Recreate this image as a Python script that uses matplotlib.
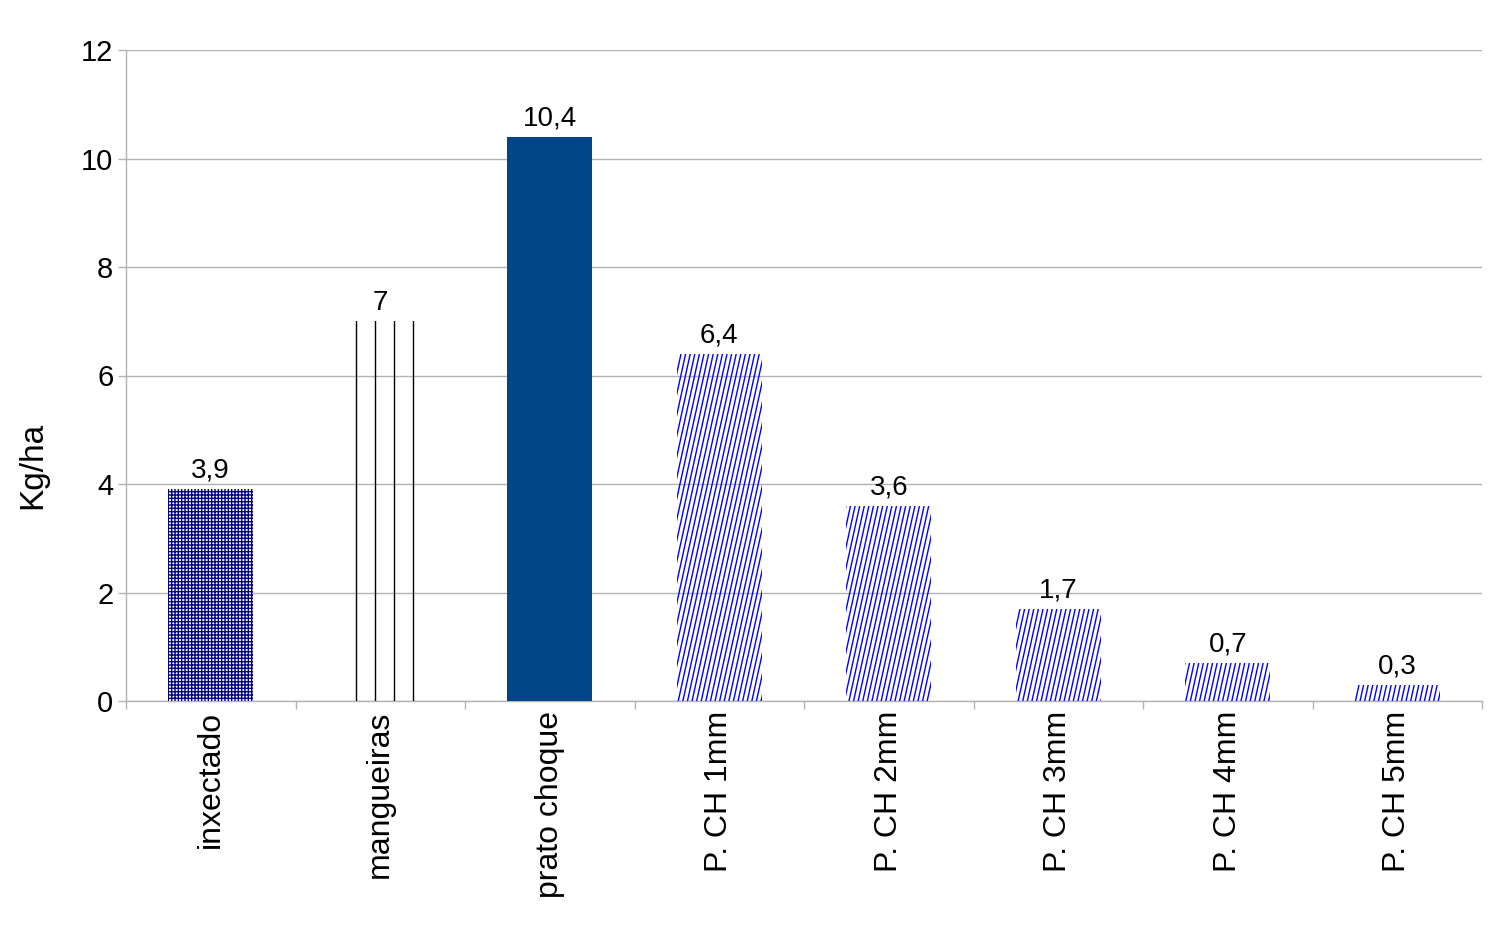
import matplotlib
matplotlib.use("Agg")
import matplotlib.pyplot as plt
import numpy as np
from matplotlib.lines import Line2D
from matplotlib.transforms import IdentityTransform

categories = ["inxectado", "mangueiras", "prato choque", "P. CH 1mm", "P. CH 2mm",
              "P. CH 3mm", "P. CH 4mm", "P. CH 5mm"]
values = [3.9, 7.0, 10.4, 6.4, 3.6, 1.7, 0.7, 0.3]
value_labels = ["3,9", "7", "10,4", "6,4", "3,6", "1,7", "0,7", "0,3"]
y_ticks = [0, 2, 4, 6, 8, 10, 12]

plt.rcParams['font.family'] = ['Liberation Sans', 'DejaVu Sans']
plt.rcParams['hatch.linewidth'] = 1.0

W, H = 1506, 944
fig = plt.figure(figsize=(W / 100, H / 100), dpi=100)
ax = fig.add_axes([126 / W, 1 - 701 / H, (1482 - 126) / W, (701 - 50) / H])

x = np.arange(len(categories))
bars = ax.bar(x, values, width=0.5, color="none", linewidth=0, zorder=3)

# bar 0: dense navy grid
bars[0].set_facecolor("white")
bars[0].set_hatch("+++++")
bars[0].set_edgecolor("#000080")
# bar 2: solid blue
bars[2].set_facecolor("#004586")
bars[2].set_edgecolor("#004586")

ax.set_xlim(-0.5, len(categories) - 0.5)
ax.set_ylim(0, 12)
fig.canvas.draw()


def add_clipped(bar, xs0, xs1, y0, y1, color, lw):
    ln = Line2D([xs0, xs1], [y0, y1], transform=IdentityTransform(),
                color=color, linewidth=lw, zorder=4)
    ax.add_artist(ln)
    ln.set_clip_path(bar.get_path(), bar.get_transform())


# bar 1: sparse vertical black lines (pattern decoration clipped to the bar)
bb = bars[1].get_window_extent()
for k in range(1, 5):
    xx = bb.x0 + 19 * k - 0.5
    add_clipped(bars[1], xx, xx, bb.y0 - 2, bb.y1 + 2, "black", 1.0)

# steep blue diagonal hatch for the remaining bars (decoration clipped to each bar)
for b in bars[3:]:
    bb = b.get_window_extent()
    spacing = 4.6
    slope = 0.22
    h = bb.y1 - bb.y0 + 4
    xs = np.arange(bb.x0 - h * slope - spacing, bb.x1 + spacing, spacing)
    for xx in xs:
        add_clipped(b, xx, xx + h * slope, bb.y0 - 2, bb.y1 + 2, "#0000ff", 1.0)

ax.set_yticks(y_ticks)
ax.set_yticklabels([str(t) for t in y_ticks], fontsize=21)
ax.yaxis.grid(True, color="#b3b3b3", linewidth=1.0, zorder=0)
ax.set_axisbelow(True)

ax.set_xticks(x)
ax.set_xticklabels(categories, rotation=90, fontsize=23, va="top", ha="center")
ax.set_xticks(np.arange(-0.5, len(categories), 1.0), minor=True)
ax.tick_params(axis="x", which="major", length=0, pad=7)
ax.tick_params(axis="x", which="minor", length=6, color="#b3b3b3", width=1)
ax.tick_params(axis="y", length=6, color="#b3b3b3", width=1, pad=3)

for s in ["top", "right"]:
    ax.spines[s].set_visible(False)
for s in ["left", "bottom"]:
    ax.spines[s].set_color("#b3b3b3")
    ax.spines[s].set_linewidth(1)

for xi, v, lab in zip(x, values, value_labels):
    ax.annotate(lab, (xi, v), xytext=(0, 4), textcoords="offset points",
                ha="center", va="bottom", fontsize=20)

ax.set_ylabel("Kg/ha", fontsize=24)
ax.yaxis.set_label_coords(-0.0575, 0.3625)

fig.savefig("out.png", dpi=100)
